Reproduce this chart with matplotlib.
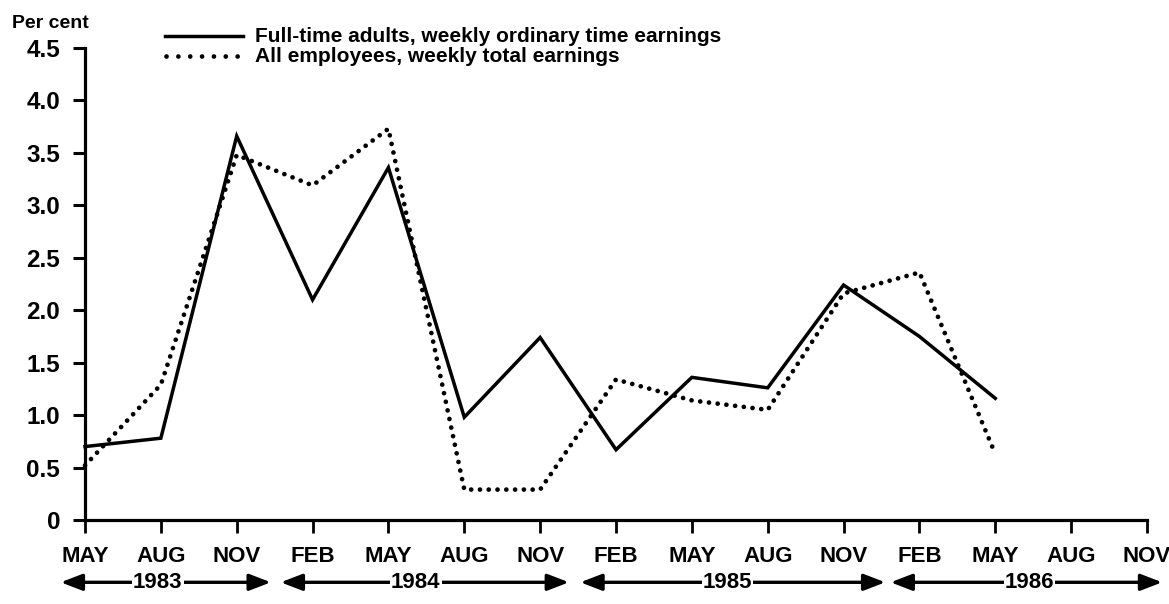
import matplotlib
matplotlib.use("Agg")
import matplotlib.pyplot as plt
from matplotlib.lines import Line2D

plt.rcParams['font.family'] = ['Liberation Sans', 'DejaVu Sans']
plt.rcParams['font.weight'] = 'bold'

# ---- data ----
quarters = ["MAY", "AUG", "NOV", "FEB", "MAY", "AUG", "NOV", "FEB", "MAY",
            "AUG", "NOV", "FEB", "MAY", "AUG", "NOV"]
years = ["1983", "1984", "1985", "1986"]
full_time = [0.70, 0.78, 3.66, 2.10, 3.36, 0.98, 1.74, 0.67, 1.36, 1.26,
             2.24, 1.75, 1.16]
all_emp = [0.52, 1.29, 3.48, 3.19, 3.73, 0.29, 0.29, 1.34, 1.14, 1.05,
           2.16, 2.36, 0.63]
yticks = [0, 0.5, 1.0, 1.5, 2.0, 2.5, 3.0, 3.5, 4.0, 4.5]
ytick_labels = ["0", "0.5", "1.0", "1.5", "2.0", "2.5", "3.0", "3.5", "4.0", "4.5"]
legend_labels = ["Full-time adults, weekly ordinary time earnings",
                 "All employees, weekly total earnings"]
# year spans (in quarter-index units): start, end, label position
year_spans = [(-0.32, 2.45, 0.96), (2.58, 6.38, 4.36),
              (6.53, 10.55, 8.47), (10.62, 14.2, 12.45)]

W, H = 1169, 604
fig = plt.figure(figsize=(W / 100, H / 100), dpi=100)
ax = fig.add_axes([85 / W, 1 - 520 / H, (1147 - 85) / W, (520 - 48) / H])

x_full = list(range(len(full_time)))
x_all = list(range(len(all_emp)))
ax.plot(x_full, full_time, color='black', lw=2.5, solid_joinstyle='miter',
        clip_on=False)
ax.plot(x_all, all_emp, color='black', lw=3.4, linestyle=(0, (0.01, 1.85)),
        dash_capstyle='round', clip_on=False)

ax.set_xlim(0, len(quarters) - 1)
ax.set_ylim(0, 4.5)
ax.set_xticks(range(len(quarters)))
ax.set_xticklabels(quarters, fontsize=16, fontweight='bold')
ax.set_yticks(yticks)
ax.set_yticklabels(ytick_labels, fontsize=17.5, fontweight='bold')

for s in ['top', 'right']:
    ax.spines[s].set_visible(False)
for s in ['left', 'bottom']:
    ax.spines[s].set_linewidth(2.3)
ax.tick_params(axis='y', direction='out', length=9, width=2.2, pad=9)
ax.tick_params(axis='x', direction='out', length=9, width=2.0, pad=10)

# year arrows
for (x0, x1, xm), yr in zip(year_spans, years):
    ax.annotate('', xy=(x0, -0.132), xytext=(x1, -0.132),
                xycoords=('data', 'axes fraction'),
                textcoords=('data', 'axes fraction'),
                arrowprops=dict(arrowstyle='<|-|>,head_length=1.3,head_width=0.5',
                                color='black', lw=2.4, shrinkA=0, shrinkB=0),
                annotation_clip=False)
    ax.text(xm, -0.132, yr, transform=ax.get_xaxis_transform(),
            ha='center', va='center', fontsize=16, fontweight='bold',
            bbox=dict(boxstyle='square,pad=0.05', fc='white', ec='none'),
            zorder=5, clip_on=False)

# "Per cent"
fig.text(12 / W, 1 - 23 / H, "Per cent", ha='left', va='center',
         fontsize=14, fontweight='bold')

# legend drawn manually
fig.add_artist(Line2D([165 / W, 243 / W], [1 - 36 / H, 1 - 36 / H],
                      color='black', lw=2.5, transform=fig.transFigure))
fig.add_artist(Line2D([166 / W, 243 / W], [1 - 56 / H, 1 - 56 / H],
                      color='black', lw=3.4, linestyle=(0, (0.01, 2.5)),
                      dash_capstyle='round', transform=fig.transFigure))
fig.text(255 / W, 1 - 37 / H, legend_labels[0], ha='left', va='center',
         fontsize=15, fontweight='bold')
fig.text(255 / W, 1 - 57 / H, legend_labels[1], ha='left', va='center',
         fontsize=15, fontweight='bold')

fig.savefig("out.png", dpi=100, facecolor='white')
